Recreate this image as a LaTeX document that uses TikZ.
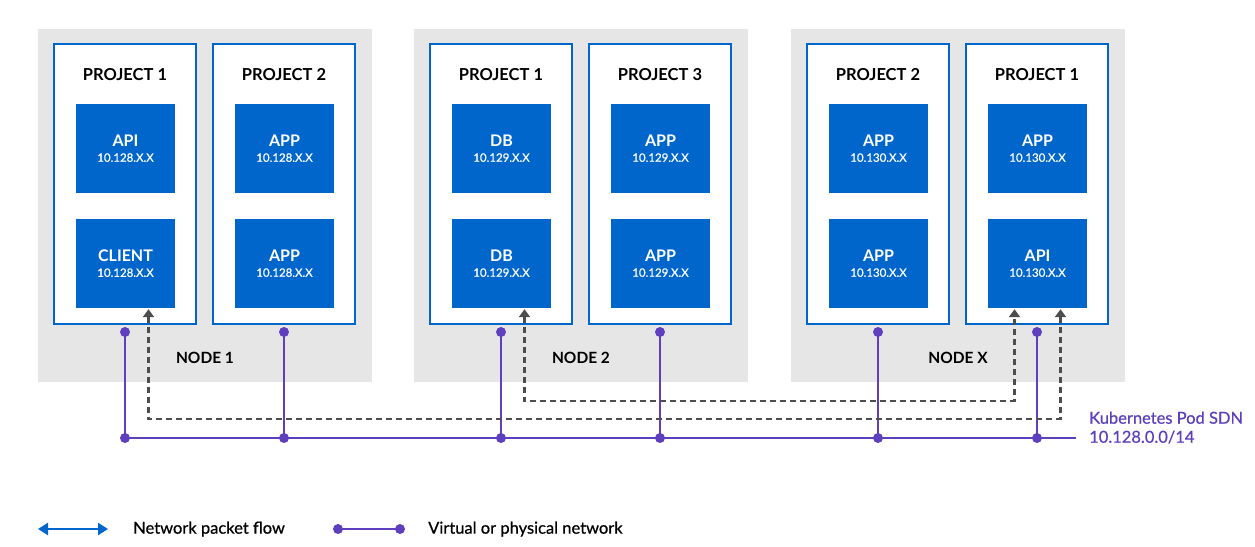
\documentclass[tikz,border=0pt]{standalone}
\usepackage{fontspec}
\setmainfont{Lato}
\newfontfamily\medfont{Lato}[FakeBold=0.6]
\usetikzlibrary{arrows.meta,calc}
\definecolor{rhblue}{HTML}{0066CC}
\definecolor{nodegray}{HTML}{E6E6E6}
\definecolor{netpurple}{HTML}{5E40BE}
\definecolor{flowgray}{HTML}{4D4D4D}
\begin{document}
\begin{tikzpicture}[x=1pt,y=-1pt,
  nodebox/.style={fill=nodegray, draw=none, minimum width=334pt, minimum height=353pt, inner sep=0pt, anchor=north west},
  projbox/.style={draw=rhblue, line width=2pt, fill=white, minimum width=142pt, minimum height=280pt, inner sep=0pt},
  pod/.style={fill=rhblue, minimum width=99pt, minimum height=89pt, inner sep=0pt, text=white, align=center},
  projtitle/.style={font=\bfseries\fontsize{16.5}{18}\selectfont, inner sep=0pt},
  nodetitle/.style={font=\bfseries\fontsize{15.5}{18}\selectfont, inner sep=0pt},
  net/.style={draw=netpurple, line width=2.2pt},
  dot/.style={fill=netpurple},
  flow/.style={draw=flowgray, line width=2.2pt, dash pattern=on 6pt off 4pt, {Triangle[length=8pt,width=11pt]}-{Triangle[length=8pt,width=11pt]}, shorten <=1pt, shorten >=1pt},
  pkt/.style={draw=rhblue, line width=2.2pt, {Triangle[length=10pt,width=12pt]}-{Triangle[length=10pt,width=12pt]}},
  legtext/.style={font=\medfont\fontsize{16.5}{18}\selectfont, anchor=west, inner sep=0pt}
]
\fill[white] (0,0) rectangle (1255,546);
\useasboundingbox (0,0) rectangle (1255,546);
\newcommand{\podtxt}[2]{{\bfseries\fontsize{16}{18}\selectfont #1}\\[3pt]{\medfont\fontsize{11.5}{13}\selectfont #2}}

% gray cluster nodes
\node[nodebox] (n1) at (38,29) {};
\node[nodebox] (n2) at (414,29) {};
\node[nodebox] (n3) at (791,29) {};
\node[nodetitle] (n1t) at (205,358) {NODE 1};
\node[nodetitle] (n2t) at (581,358) {NODE 2};
\node[nodetitle] (n3t) at (958,358) {NODE X};

% projects
\node[projbox] (p11) at (125,184) {};
\node[projbox] (p12) at (284,184) {};
\node[projbox] (p21) at (501,184) {};
\node[projbox] (p22) at (660,184) {};
\node[projbox] (p31) at (878,184) {};
\node[projbox] (p32) at (1037,184) {};
\node[projtitle] (p11t) at (125,75) {PROJECT 1};
\node[projtitle] (p12t) at (284,75) {PROJECT 2};
\node[projtitle] (p21t) at (501,75) {PROJECT 1};
\node[projtitle] (p22t) at (660,75) {PROJECT 3};
\node[projtitle] (p31t) at (878,75) {PROJECT 2};
\node[projtitle] (p32t) at (1037,75) {PROJECT 1};

% pods
\node[pod] (a11) at (125.5,148.5) {\podtxt{API}{10.128.X.X}};
\node[pod] (b11) at (125.5,263.5) {\podtxt{CLIENT}{10.128.X.X}};
\node[pod] (a12) at (284.5,148.5) {\podtxt{APP}{10.128.X.X}};
\node[pod] (b12) at (284.5,263.5) {\podtxt{APP}{10.128.X.X}};
\node[pod] (a21) at (501.5,148.5) {\podtxt{DB}{10.129.X.X}};
\node[pod] (b21) at (501.5,263.5) {\podtxt{DB}{10.129.X.X}};
\node[pod] (a22) at (660.5,148.5) {\podtxt{APP}{10.129.X.X}};
\node[pod] (b22) at (660.5,263.5) {\podtxt{APP}{10.129.X.X}};
\node[pod] (a31) at (878.5,148.5) {\podtxt{APP}{10.130.X.X}};
\node[pod] (b31) at (878.5,263.5) {\podtxt{APP}{10.130.X.X}};
\node[pod] (a32) at (1037.5,148.5) {\podtxt{APP}{10.130.X.X}};
\node[pod] (b32) at (1037.5,263.5) {\podtxt{API}{10.130.X.X}};

% network bus
\coordinate (bus) at (0,438);
\coordinate (busR) at (1076,438);
\foreach \p in {p11,p12,p21,p22,p31,p32}{
  \coordinate (t\p) at ([yshift=-7pt]\p.south);
  \coordinate (j\p) at (t\p |- bus);
  \draw[net] (t\p) -- (j\p);
  \fill[dot] (t\p) circle (5pt);
}
\draw[net] (jp11) -- (busR);
\foreach \p in {p11,p12,p21,p22,p31,p32}{
  \fill[dot] (j\p) circle (5pt);
}
\node[anchor=west, align=left, text=netpurple, inner sep=0pt, font=\medfont\fontsize{16.5}{19}\selectfont] (sdn) at (1089,427.5) {Kubernetes Pod SDN\\10.128.0.0/14};

% packet flows
\coordinate (lv1) at (0,419);
\coordinate (lv2) at (0,401);
\draw[flow] ([xshift=23pt]b11.south) -- ([xshift=23pt]b11.south |- lv1) -| ([xshift=23pt]b32.south);
\draw[flow] ([xshift=23pt]b21.south) -- ([xshift=23pt]b21.south |- lv2) -| ([xshift=-23pt]b32.south);

% legend
\coordinate (la1) at (38,529);
\coordinate (la2) at (108,529);
\draw[pkt] (la1) -- (la2);
\node[legtext] (lt1) at (133,529) {Network packet flow};
\coordinate (lb1) at (338,529);
\coordinate (lb2) at (400,529);
\draw[net] (lb1) -- (lb2);
\fill[dot] (lb1) circle (5pt);
\fill[dot] (lb2) circle (5pt);
\node[legtext] (lt2) at (428,529) {Virtual or physical network};
\end{tikzpicture}
\end{document}
